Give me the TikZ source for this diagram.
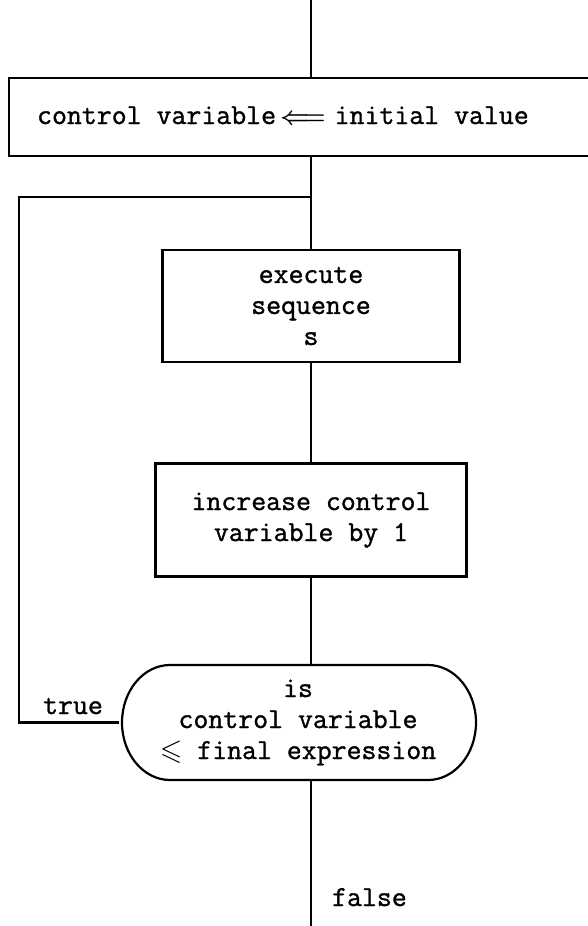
\documentclass[tikz,border=0pt]{standalone}
\usepackage{fontspec}
\usepackage{amssymb}
\newfontfamily\typewriter[FakeBold=1.2]{Latin Modern Mono}
\begin{document}
\begin{tikzpicture}[x=1pt, y=-1pt, line width=2.2pt,
  every node/.style={font=\fontsize{29}{31}\selectfont\typewriter},
  box/.style={draw, rectangle, inner sep=0pt, align=center},
  textonly/.style={inner sep=0pt, align=center}]
\useasboundingbox (0,0) rectangle (588,926);

% initialisation box (its right side runs off the page)
\node[box, minimum width=592, minimum height=78, anchor=north west] (init) at (8,77) {};
\node[anchor=base west, inner sep=0pt] (initlabel) at (36,124)
  {control variable\kern4pt{\boldmath$\Longleftarrow$}\kern9pt{}initial value};

% loop body
\node[box, minimum width=297, minimum height=112] (exec) at (311,306) {execute\\sequence\\s};
\node[box, minimum width=311, minimum height=113] (incr) at (311,520) {increase control\\variable by 1};

% test terminal with elliptic ends
\node[textonly, minimum width=356, minimum height=115] (test) at (298,722.5)
  {is\\control variable\\$\leqslant$ final expression};
\draw (170,665) -- (428,665)
  arc[start angle=-90, end angle=90, x radius=48, y radius=57.5]
  -- (170,780)
  arc[start angle=90, end angle=270, x radius=48, y radius=57.5] -- cycle;

% connectors
\coordinate (entry) at (311,0);
\coordinate (exit) at (311,926);
\coordinate (loop) at (311,197);
\coordinate (lc1) at (19,197);
\coordinate (lc2) at (19,722.5);
\draw (entry) -- (entry |- init.north);
\draw (entry |- init.south) -- (exec.north);
\draw (exec.south) -- (incr.north);
\draw (incr.south) -- (incr.south |- test.north);
\draw (loop) -- (lc1) -- (lc2) -- (test.west);
\draw (exit |- test.south) -- (exit);

% branch labels
\node[anchor=base, inner sep=0pt] (truelbl) at (73,714) {true};
\node[anchor=base west, inner sep=0pt] (falselbl) at (331,906) {false};
\end{tikzpicture}
\end{document}
